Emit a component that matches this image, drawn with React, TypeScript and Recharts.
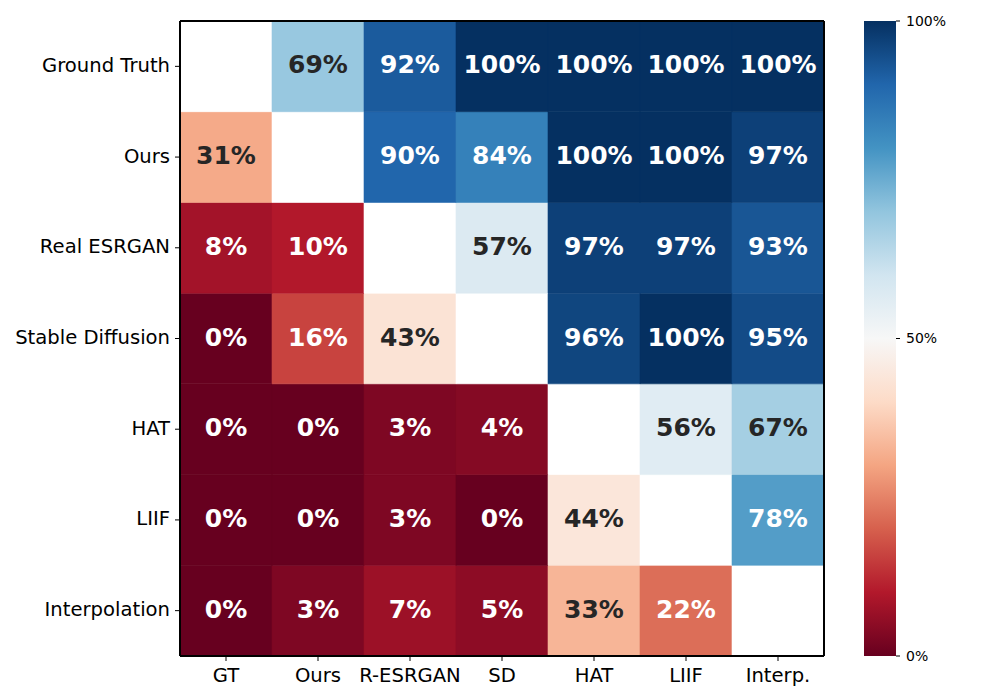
import React from 'react';
import { BarChart, Bar, XAxis, YAxis, Cell, LabelList } from 'recharts';

const rowLabels = ['Ground Truth', 'Ours', 'Real ESRGAN', 'Stable Diffusion', 'HAT', 'LIIF', 'Interpolation'];
const colLabels = ['GT', 'Ours', 'R-ESRGAN', 'SD', 'HAT', 'LIIF', 'Interp.'];

// win rate (%) of row method vs column method, null on the diagonal
const groundTruth = [null, 69, 92, 100, 100, 100, 100];
const ours = [31, null, 90, 84, 100, 100, 97];
const realEsrgan = [8, 10, null, 57, 97, 97, 93];
const stableDiffusion = [0, 16, 43, null, 96, 100, 95];
const hat = [0, 0, 3, 4, null, 56, 67];
const liif = [0, 0, 3, 0, 44, null, 78];
const interpolation = [0, 3, 7, 5, 33, 22, null];
const matrix = [groundTruth, ours, realEsrgan, stableDiffusion, hat, liif, interpolation];

const colorbarTicks = [0, 50, 100];

// matplotlib RdBu
const RDBU = [
  [103, 0, 31], [178, 24, 43], [214, 96, 77], [244, 165, 130], [253, 219, 199],
  [247, 247, 247], [209, 229, 240], [146, 197, 222], [67, 147, 195], [33, 102, 172], [5, 48, 97],
];

const rgbAt = (v: number) => {
  const t = Math.max(0, Math.min(1, v / 100)) * 10;
  const i = Math.min(9, Math.floor(t));
  const f = t - i;
  const a = RDBU[i], b = RDBU[i + 1];
  return [0, 1, 2].map(k => Math.round(a[k] + (b[k] - a[k]) * f));
};
const toHex = (c: number[]) => '#' + c.map(x => x.toString(16).padStart(2, '0')).join('');
const cellColor = (v: number | null) => (v == null ? '#ffffff' : toHex(rgbAt(v)));
const textColor = (v: number) => {
  const lin = rgbAt(v).map(x => {
    const s = x / 255;
    return s <= 0.03928 ? s / 12.92 : Math.pow((s + 0.055) / 1.055, 2.4);
  });
  const lum = 0.2126 * lin[0] + 0.7152 * lin[1] + 0.0722 * lin[2];
  return lum > 0.408 ? '#262626' : '#ffffff';
};

const data = colLabels.map((col, c) => {
  const d: any = { col };
  matrix.forEach((row, r) => {
    d[`h${r}`] = 1;
    d[`v${r}`] = row[c];
  });
  return d;
});

const font = '"DejaVu Sans", sans-serif';
const spine = { stroke: '#000', strokeWidth: 2 };

const CellLabel = (props: any) => {
  const { value } = props;
  if (value == null) return null;
  const vb = props.viewBox && props.viewBox.width != null ? props.viewBox : props;
  const x = Number(vb.x) + Number(vb.width) / 2;
  const y = Number(vb.y) + Number(vb.height) / 2 - 1.5;
  return (
    <text x={x} y={y} textAnchor="middle" dominantBaseline="central" fontFamily={font}
      fontWeight="bold" fontSize={25} fill={textColor(value)}>
      {`${value}%`}
    </text>
  );
};

export default function App() {
  const stackOrder = [6, 5, 4, 3, 2, 1, 0]; // bottom row first
  return (
    <div style={{ position: 'relative', width: 1000, height: 700, background: '#fff' }}>
      <style>{`body{margin:0}`}</style>
      <div style={{ position: 'absolute', left: 0, top: 0 }}>
        <BarChart width={1000} height={700} data={data} barCategoryGap={0} barGap={0}
          margin={{ top: 20, right: 175, bottom: 0, left: 0 }}>
          <XAxis dataKey="col" height={44} tickSize={5} tickMargin={7}
            axisLine={spine} tickLine={{ stroke: '#000' }}
            tick={{ fill: '#000', fontSize: 19.6, fontFamily: font }} interval={0} />
          <XAxis xAxisId="top" dataKey="col" orientation="top" height={1} tick={false} tickLine={false}
            axisLine={spine} />
          <YAxis type="number" domain={[0, 7]} ticks={[0.5, 1.5, 2.5, 3.5, 4.5, 5.5, 6.5]} width={180}
            tickFormatter={(v: number) => rowLabels[6 - Math.floor(v)]}
            tickSize={5} tickMargin={5} axisLine={spine} tickLine={{ stroke: '#000' }}
            tick={{ fill: '#000', fontSize: 19.6, fontFamily: font, dy: -1.5 }} />
          <YAxis yAxisId="right" type="number" domain={[0, 7]} orientation="right" width={1}
            tick={false} tickLine={false} axisLine={spine} />
          {stackOrder.map(r => (
            <Bar key={r} dataKey={`h${r}`} stackId="grid" isAnimationActive={false}>
              {data.map((d, c) => (
                <Cell key={c} fill={cellColor(d[`v${r}`])} stroke={cellColor(d[`v${r}`])} strokeWidth={0.6} />
              ))}
              <LabelList dataKey={`v${r}`} content={CellLabel} />
            </Bar>
          ))}
        </BarChart>
      </div>
      <div style={{ position: 'absolute', left: 0, top: 0 }}>
        <BarChart width={1000} height={700} data={[{ k: 'cb', v: 100 }]} barCategoryGap={0}
          margin={{ top: 21, right: 0, bottom: 44, left: 864 }}>
          <defs>
            <linearGradient id="rdbu" x1="0" y1="1" x2="0" y2="0">
              {RDBU.map((c, i) => (
                <stop key={i} offset={`${i * 10}%`} stopColor={toHex(c)} />
              ))}
            </linearGradient>
          </defs>
          <XAxis dataKey="k" hide />
          <YAxis orientation="right" type="number" domain={[0, 100]} ticks={colorbarTicks} width={104}
            tickFormatter={(v: number) => `${v}%`} axisLine={false} tickSize={4} tickMargin={6}
            tickLine={{ stroke: '#000' }} tick={{ fill: '#000', fontSize: 14, fontFamily: font }} />
          <Bar dataKey="v" fill="url(#rdbu)" isAnimationActive={false} />
        </BarChart>
      </div>
    </div>
  );
}
